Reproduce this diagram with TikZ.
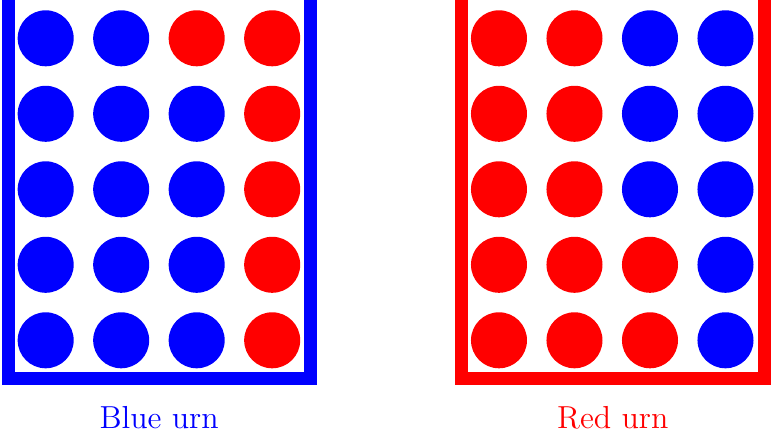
\documentclass[tikz,border=0pt]{standalone}
\usetikzlibrary{positioning}
\begin{document}
\begin{tikzpicture}[every node/.style={font=\large},
  urnwall/.style={line width=4.9pt,line join=miter}]
\useasboundingbox (0,0) rectangle (10.212,5.735);
% blue urn
\coordinate (b0) at (0.109,5.735);
\coordinate (b1) at (0.109,0.719);
\coordinate (b2) at (4.106,0.719);
\coordinate (b3) at (4.106,5.735);
\draw[urnwall,blue] (b0)--(b1)--(b2)--(b3);
\foreach \row/\a/\b/\c/\d in {0/blue/blue/red/red,1/blue/blue/blue/red,2/blue/blue/blue/red,3/blue/blue/blue/red,4/blue/blue/blue/red}{
  \fill[\a] (0.605,5.228-\row) circle (0.371);
  \fill[\b] (1.605,5.228-\row) circle (0.371);
  \fill[\c] (2.605,5.228-\row) circle (0.371);
  \fill[\d] (3.605,5.228-\row) circle (0.371);
}
\node[blue,anchor=base] (bluelabel) at (2.107,0.062) {Blue urn};
% red urn
\coordinate (r0) at (6.111,5.735);
\coordinate (r1) at (6.111,0.719);
\coordinate (r2) at (10.12,0.719);
\coordinate (r3) at (10.12,5.735);
\draw[urnwall,red] (r0)--(r1)--(r2)--(r3);
\foreach \row/\a/\b/\c/\d in {0/red/red/blue/blue,1/red/red/blue/blue,2/red/red/blue/blue,3/red/red/red/blue,4/red/red/red/blue}{
  \fill[\a] (6.609,5.228-\row) circle (0.371);
  \fill[\b] (7.609,5.228-\row) circle (0.371);
  \fill[\c] (8.609,5.228-\row) circle (0.371);
  \fill[\d] (9.609,5.228-\row) circle (0.371);
}
\node[red,anchor=base] (redlabel) at (8.115,0.062) {Red urn};
\end{tikzpicture}
\end{document}
